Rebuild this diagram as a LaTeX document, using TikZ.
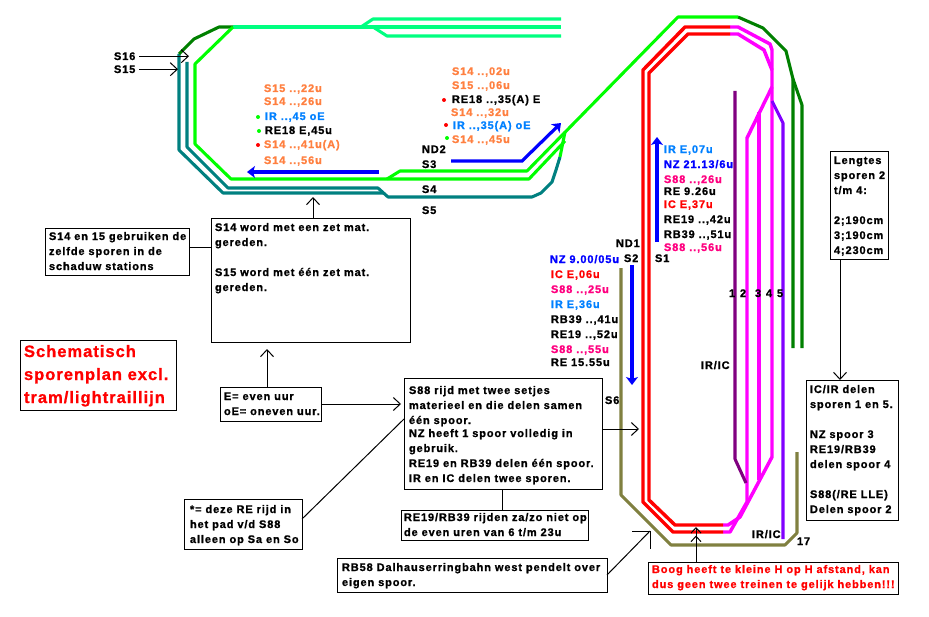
\documentclass[tikz,border=0pt]{standalone}
\usepackage{fontspec}
\usetikzlibrary{arrows.meta}
\newfontfamily\labfam[LetterSpace=8,BoldFeatures={LetterSpace=8,FakeBold=1}]{Liberation Sans}
\newfontfamily\ttlfam[LetterSpace=6,BoldFeatures={LetterSpace=6,FakeBold=1}]{Liberation Sans}
\newdimen\pxu \pxu=0.75pt
\definecolor{tcoral}{HTML}{FF8040}
\definecolor{tsky}{HTML}{0080FF}
\definecolor{tpink}{HTML}{FF0080}
\definecolor{lgreen}{HTML}{00FF00}
\definecolor{mint}{HTML}{00FF80}
\definecolor{teal2}{HTML}{008080}
\definecolor{dgreen}{HTML}{008000}
\definecolor{olive2}{HTML}{808040}
\definecolor{mag}{HTML}{FF00FF}
\definecolor{dpurp}{HTML}{800080}
\definecolor{viol}{HTML}{8000FF}
\tikzset{
  x=0.75pt,y=-0.75pt,
  every node/.style={inner sep=0pt,outer sep=0pt},
  txt/.style={anchor=base west,font=\labfam\fontsize{8.25}{11}\selectfont\bfseries},
  infobox/.style={draw=black,line width=0.75pt,anchor=north west,fill=white,font=\labfam\fontsize{8.25}{11}\selectfont\bfseries},
  track/.style={line width=2.3pt,line join=round},
  trackb/.style={line width=2.6pt,line join=round},
  conn/.style={draw=black,line width=0.75pt},
  tipo/.tip={Straight Barb[length=5.25pt,width=9.75pt,line width=0.75pt]},
  openarrow/.style={conn,-{tipo}},
  bluearrow/.style={draw=blue,line width=2.4pt,line join=miter,-{Stealth[length=6pt,width=9pt,inset=1.5pt]}},
  dotmark/.style={radius=2}
}
\newcommand\lab[5]{\node[txt,text=#4] (#1) at (#2,#3) {#5};}
\newcommand\bt[5]{\parbox[t][#2\pxu][t]{#1\pxu}{\leftskip=#3\pxu\rightskip=-60\pxu plus 1fil\parindent=0pt\parfillskip=0pt plus 1fil\baselineskip=15\pxu\lineskiplimit=-20pt\rule{0pt}{#4\pxu}#5}}
\begin{document}
\begin{tikzpicture}
\useasboundingbox[fill=white] (0,0) rectangle (929,617);
% mint bundle
\draw[track,mint] (361,27) -- (561,27);
\draw[track,mint] (361,27) -- (373,19) -- (561,19);
\draw[track,mint] (373,27) -- (387,36) -- (561,36);
% teal
\draw[track,teal2] (179,54) -- (179,150) -- (223,193) -- (383,193);
\draw[track,teal2] (187,62) -- (187,147) -- (228,188) -- (378,188) -- (388,197) -- (532,197) -- (541,193) -- (552,182) -- (556,170) -- (560,157);
% dark green
\draw[track,dgreen] (179,54) -- (194,39) -- (219,27) -- (233,27);
\draw[track,dgreen] (738,17) -- (763,28) -- (786,51) -- (793,79) -- (793,348);
\draw[track,dgreen] (793,79) -- (802,105) -- (802,348);
% light green
\draw[track,mint] (233,27) -- (361,27);
\draw[track,lgreen] (233,27) -- (195,64) -- (195,144) -- (231,179) -- (529,179) -- (565,141);
\draw[track,lgreen] (387,179) -- (400,171) -- (527,171) -- (678,17) -- (738,17);
\draw[track,lgreen] (565,132) -- (560,157);
% olive
\draw[track,olive2] (621,268) -- (621,495) -- (671,545) -- (785,545) -- (797,533) -- (797,452);
% magenta
\draw[trackb,mag] (730,27) -- (738,27) -- (770,44) -- (772,50) -- (772,457) -- (740,517) -- (728,525) -- (723,525);
\draw[trackb,mag] (730,34) -- (738,34) -- (764,50) -- (772,70);
\draw[trackb,mag] (772,87) -- (747,138) -- (747,502) -- (730,532) -- (723,532);
\draw[trackb,mag] (759,112) -- (759,480);
% purple
\draw[track,dpurp] (735,91) -- (735,459) -- (746,483);
\draw[track,viol] (772,101) -- (783,123) -- (783,539);
% red
\draw[trackb,red] (730,27) -- (685,27) -- (643,70) -- (643,502) -- (673,532) -- (723,532);
\draw[trackb,red] (730,34) -- (688,34) -- (649,73) -- (649,500) -- (675,525) -- (723,525);
% blue arrows
\coordinate (aStart) at (379,172); \coordinate (aEnd) at (247,172);
\draw[bluearrow] (aStart) -- (aEnd);
\coordinate (bStart) at (451,161); \coordinate (bMid) at (522,161); \coordinate (bEnd) at (561,123);
\draw[bluearrow] (bStart) -- (bMid) -- (bEnd);
\coordinate (cStart) at (657,242); \coordinate (cEnd) at (657,137);
\draw[bluearrow] (cStart) -- (cEnd);
\coordinate (dStart) at (632,265); \coordinate (dEnd) at (632,385);
\draw[bluearrow] (dStart) -- (dEnd);
% track labels
\lab{s16lab}{114}{60}{black}{S16}
\lab{s15lab}{114}{73}{black}{S15}
\lab{nd2}{422}{153}{black}{ND2}
\lab{s3}{422}{168}{black}{S3}
\lab{s4}{422}{193}{black}{S4}
\lab{s5}{422}{214}{black}{S5}
\lab{nd1}{616}{247}{black}{ND1}
\lab{s2}{624}{262}{black}{S2}
\lab{s1}{655}{262}{black}{S1}
\lab{s6}{605}{404}{black}{S6}
\lab{n1}{729}{297}{black}{1}
\lab{n2}{740}{297}{black}{2}
\lab{n3}{755}{297}{black}{3}
\lab{n4}{766}{297}{black}{4}
\lab{n5}{777}{297}{black}{5}
\lab{iric1}{701}{369}{black}{IR/IC}
\lab{iric2}{752}{538}{black}{IR/IC}
\lab{n17}{797}{545}{black}{17}
% timetable left
\lab{a1}{264}{92}{tcoral}{S15 ..,22u}
\lab{a2}{264}{105}{tcoral}{S14 ..,26u}
\lab{a3}{265}{120}{tsky}{IR ..,45 oE}
\lab{a4}{265}{134}{black}{RE18 E,45u}
\lab{a5}{264}{148}{tcoral}{S14 ..,41u(A)}
\lab{a6}{264}{164}{tcoral}{S14 ..,56u}
\fill[lgreen] (258,117) circle[dotmark];
\fill[lgreen] (259,131) circle[dotmark];
\fill[red] (258,145) circle[dotmark];
% timetable right
\lab{b1}{452}{75}{tcoral}{S14 ..,02u}
\lab{b2}{452}{89}{tcoral}{S15 ..,06u}
\lab{b3}{452}{103}{black}{RE18 ..,35(A) E}
\lab{b4}{451}{116}{tcoral}{S14 ..,32u}
\lab{b5}{453}{129}{tsky}{IR ..,35(A) oE}
\lab{b6}{452}{143}{tcoral}{S14 ..,45u}
\fill[red] (444,100) circle[dotmark];
\fill[red] (446,125) circle[dotmark];
\fill[lgreen] (447,138) circle[dotmark];
% timetable S1
\lab{c1}{664}{153}{tsky}{IR E,07u}
\lab{c2}{664}{168}{blue}{NZ 21.13/6u}
\lab{c3}{664}{183}{tpink}{S88 ..,26u}
\lab{c4}{664}{195}{black}{RE 9.26u}
\lab{c5}{664}{208}{red}{IC E,37u}
\lab{c6}{664}{223}{black}{RE19 ..,42u}
\lab{c7}{664}{238}{black}{RB39 ..,51u}
\lab{c8}{664}{251}{tpink}{S88 ..,56u}
% timetable S2
\lab{d1}{550}{263}{blue}{NZ 9.00/05u}
\lab{d2}{551}{278}{red}{IC E,06u}
\lab{d3}{551}{293}{tpink}{S88 ..,25u}
\lab{d4}{551}{308}{tsky}{IR E,36u}
\lab{d5}{551}{323}{black}{RB39 ..,41u}
\lab{d6}{551}{338}{black}{RE19 ..,52u}
\lab{d7}{551}{353}{tpink}{S88 ..,55u}
\lab{d8}{551}{366}{black}{RE 15.55u}
% boxes
\node[infobox] (s14en) at (45,228) {\bt{144}{47}{4}{12}{S14 en 15 gebruiken de\\zelfde sporen in de\\schaduw stations}};
\node[infobox] (s14word) at (211,218) {\bt{199}{124}{4}{13}{S14 word met een zet mat.\\gereden.\\[11.25pt]S15 word met één zet mat.\\gereden.}};
\node[infobox,text=red,font=\ttlfam\fontsize{12.4}{15}\selectfont\bfseries] (title) at (20,340) {\bt{156}{70}{4}{17}{\baselineskip=23\pxu Schematisch\\sporenplan excl.\\tram/lightraillijn}};
\node[infobox] (ebox) at (220,387) {\bt{101}{34}{4}{13}{E= even uur\\oE= oneven uur.}};
\node[infobox] (s88) at (404,378) {\bt{198}{111}{5}{16}{S88 rijd met twee setjes\\materieel en die delen samen\\één spoor.\\[-1.5pt]NZ heeft 1 spoor volledig in\\gebruik.\\RE19 en RB39 delen één spoor.\\IR en IC delen twee sporen.}};
\node[infobox] (re19) at (401,510) {\bt{187}{30}{3}{11}{RE19/RB39 rijden za/zo niet op\\de even uren van 6 t/m 23u}};
\node[infobox] (stareq) at (184,499) {\bt{118}{50}{6}{14}{*= deze RE rijd in\\het pad v/d S88\\alleen op Sa en So}};
\node[infobox] (rb58) at (337,558) {\bt{270}{34}{5}{13}{RB58 Dalhauserringbahn west pendelt over\\eigen spoor.}};
\node[infobox,text=red] (boog) at (648,562) {\bt{250}{32}{4}{11}{Boog heeft te kleine H op H afstand, kan\\dus geen twee treinen te gelijk hebben!!!}};
\node[infobox] (icir) at (806,380) {\bt{92}{140}{4}{13}{IC/IR delen\\sporen 1 en 5.\\[11.25pt]NZ spoor 3\\RE19/RB39\\delen spoor 4\\[11.25pt]S88(/RE LLE)\\Delen spoor 2}};
\node[infobox] (lengtes) at (830,152) {\bt{58}{107}{4}{12}{Lengtes\\sporen 2\\t/m 4:\\[11.25pt]2;190cm\\3;190cm\\4;230cm}};
% connectors
\coordinate (s16tip) at (189,56);
\coordinate (s15tip) at (178,69);
\draw[openarrow] ([xshift=4\pxu]s16lab.east) -- (s16lab.east -| s16tip);
\draw[openarrow] ([xshift=4\pxu]s15lab.east) -- (s15lab.east -| s15tip);
\draw[conn] ([yshift=4.5\pxu]s14en.east) -- ([yshift=33\pxu]s14word.west);
\coordinate (s14up) at (313,197);
\draw[openarrow] ([xshift=2.5\pxu]s14word.north) -- (s14up);
\draw[openarrow] ([xshift=-3.5\pxu]ebox.north) -- ([xshift=-43.5\pxu,yshift=-7\pxu]s14word.south);
\draw[openarrow] (ebox.east) -- ([xshift=-3\pxu,yshift=29.5\pxu]s88.west);
\coordinate (s88right) at (639,429);
\draw[openarrow] ([yshift=4.5\pxu]s88.east) -- (s88right);
\draw[conn] ([yshift=5\pxu]stareq.east) -- ([yshift=14.5\pxu]s88.west);
\draw[conn] ([xshift=-1\pxu]s88.south) -- ([xshift=7.5\pxu]re19.north);
\coordinate (rbtip) at (650,531);
\coordinate (rbleft) at (632,531);
\coordinate (rbdown) at (650,549);
\draw[conn] (rb58.east) -- (rbtip);
\draw[conn] (rbleft) -- (rbtip) -- (rbdown);
\coordinate (boogtip) at (696,527);
\draw[conn,-{Straight Barb[length=4pt,width=7.5pt,line width=0.75pt,sep=1.5pt]Straight Barb[length=4pt,width=7.5pt,line width=0.75pt]}] ([xshift=-77\pxu]boog.north) -- (boogtip);
\draw[openarrow] ([xshift=-19\pxu]lengtes.south) -- ([xshift=-12\pxu]icir.north);
\end{tikzpicture}
\end{document}
